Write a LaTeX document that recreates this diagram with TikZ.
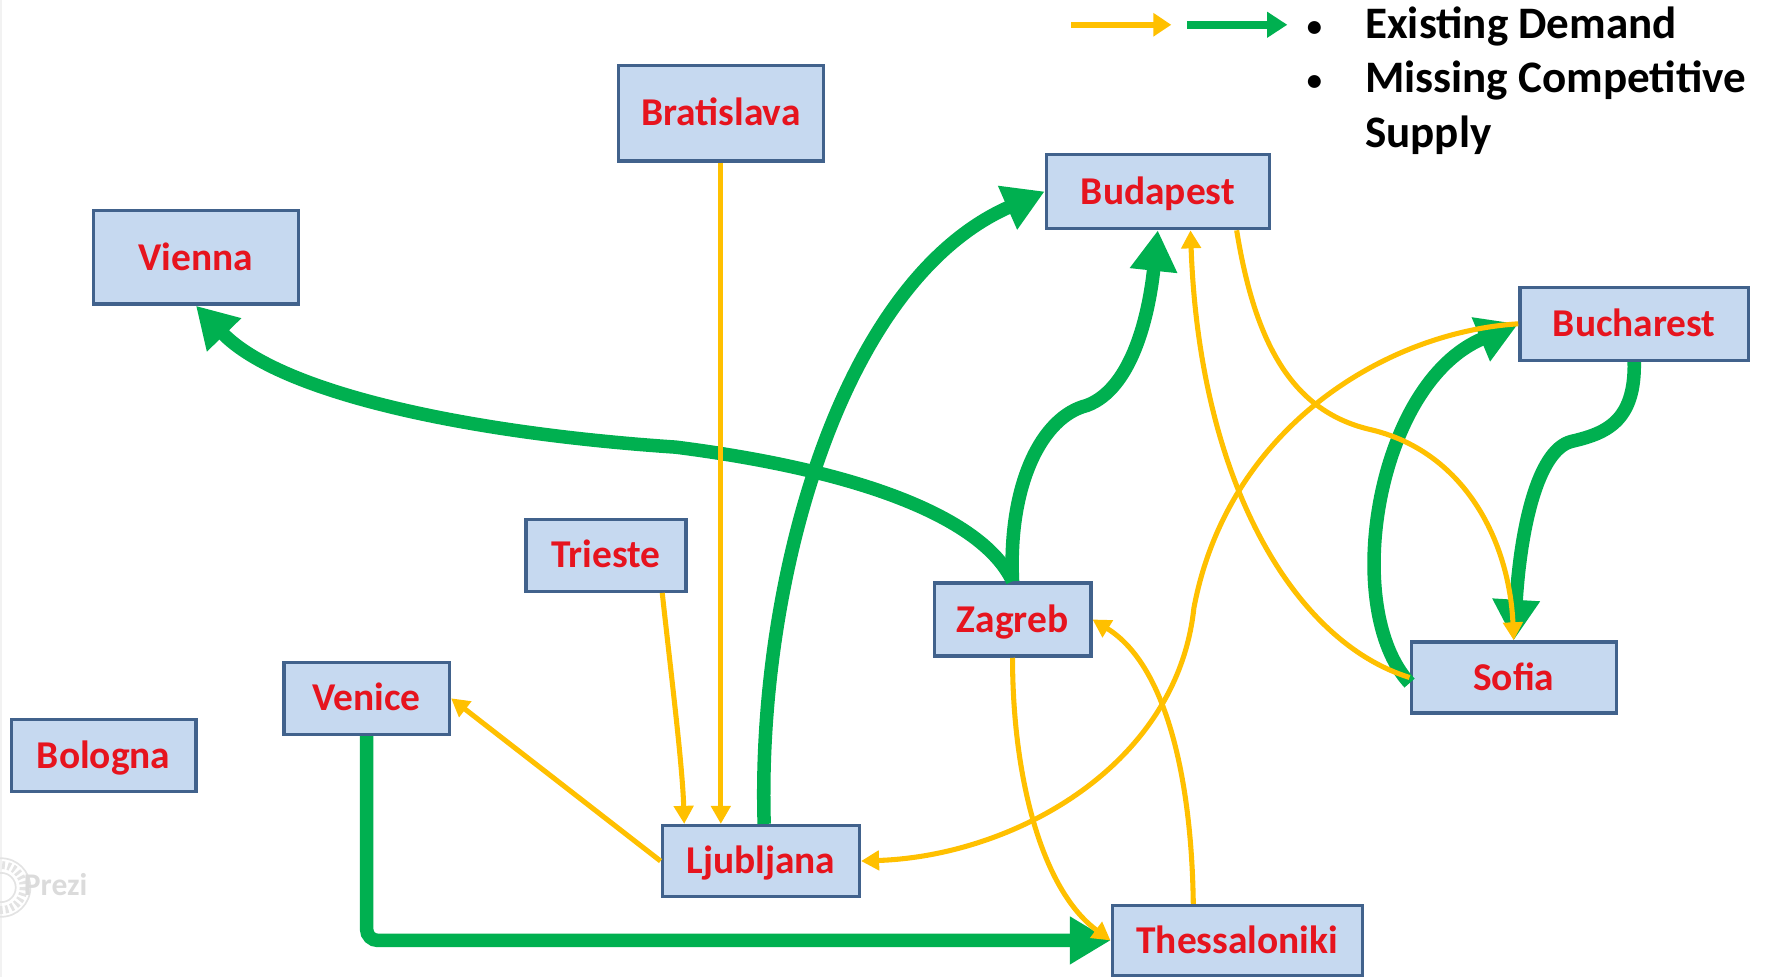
\documentclass[tikz,border=0pt]{standalone}
\usepackage{fontspec}
\setmainfont{Carlito}
\usetikzlibrary{arrows.meta,calc}
\definecolor{boxfill}{RGB}{198,217,240}
\definecolor{boxdraw}{RGB}{65,98,140}
\definecolor{cityred}{RGB}{230,20,30}
\definecolor{ylw}{RGB}{255,192,0}
\definecolor{grn}{RGB}{0,176,80}
\begin{document}
\begin{tikzpicture}[x=1pt,y=-1pt,
  city/.style={draw=boxdraw, fill=boxfill, line width=3pt,
    font=\fontsize{35}{40}\selectfont\bfseries, text=cityred,
    text height=23.5pt, text depth=1pt, inner sep=0pt},
  demand/.style={draw=ylw, line width=4.5pt, -{Triangle[length=16pt,width=17pt]}},
  supply/.style={draw=grn, line width=12pt, -{Triangle[length=36pt,width=40pt]}},
  legtext/.style={anchor=base west, inner sep=0pt, font=\fontsize{40}{48}\selectfont\bfseries},
  legbullet/.style={anchor=base, inner sep=0pt, font=\fontsize{27}{30}\selectfont\bfseries},
]
\useasboundingbox (0,0) rectangle (1568,867.5);
\fill[gray!10] (0,0) rectangle (2,867.5);

% watermark
\draw[gray!22, line width=7pt, dash pattern=on 2.5pt off 2.5pt] (1,788) circle (20);
\draw[gray!22, line width=1.5pt] (1,788) circle (26) (1,788) circle (13);
\node[anchor=base west, inner sep=0pt, text=gray!28, font=\fontsize{28}{32}\selectfont\bfseries] (prezi) at (21,795) {Prezi};

% cities
\node[city, minimum width=182pt, minimum height=85pt] (brat) at (640,100.5) {Bratislava};
\node[city, minimum width=182pt, minimum height=83pt] (vie) at (174,228.5) {Vienna};
\node[city, minimum width=198pt, minimum height=66pt] (bud) at (1028,170) {Budapest};
\node[city, minimum width=203pt, minimum height=65pt] (buc) at (1451,287.5) {Bucharest};
\node[city, minimum width=142pt, minimum height=64pt] (tri) at (538,493) {Trieste};
\node[city, minimum width=139pt, minimum height=65pt] (zag) at (899,550) {Zagreb};
\node[city, minimum width=182pt, minimum height=63pt] (sof) at (1344,601.5) {Sofia};
\node[city, minimum width=147pt, minimum height=64pt] (ven) at (325.5,620) {Venice};
\node[city, minimum width=164pt, minimum height=64pt] (bol) at (92,671) {Bologna};
\node[city, minimum width=175pt, minimum height=63pt] (lj) at (675.5,764.5) {Ljubljana};
\node[city, minimum width=222pt, minimum height=62pt] (thes) at (1098.5,835) {Thessaloniki};

% missing competitive supply (green)
\draw[supply] (zag.north) .. controls (875,465) and (780,420) .. (600,397)
   .. controls (420,385) and (250,350) .. (vie.south);
\draw[supply] (zag.north) .. controls (895,430) and (925,370) .. (965,360)
   .. controls (1005,345) and (1020,280) .. (bud.south);
\draw[supply] ([xshift=3pt]lj.north) .. controls (672,520) and (745,250) .. (bud.west);
\draw[supply, rounded corners=10pt] (ven.south) |- (thes.west);
\draw[supply] ([yshift=-5pt]sof.west) .. controls (1190,540) and (1222,340) .. (buc.west);
\draw[supply] (buc.south) .. controls (1452,375) and (1425,385) .. (1395,392)
   .. controls (1365,400) and (1350,470) .. (sof.north);

% existing demand (yellow)
\draw[demand] (brat.south) -- ([xshift=-35.5pt]lj.north);
\draw[demand] ([xshift=50pt]tri.south) .. controls (596,600) and (606,680) .. ([xshift=-68pt]lj.north);
\draw[demand] (lj.west) -- (ven.east);
\draw[demand] (buc.west) .. controls (1230,295) and (1090,380) .. (1060,540)
   .. controls (1045,680) and (900,760) .. (lj.east);
\draw[demand] (sof.west) .. controls (1150,570) and (1065,430) .. ([xshift=29pt]bud.south);
\draw[demand] ([xshift=70pt]bud.south) .. controls (1115,310) and (1150,365) .. (1215,381)
   .. controls (1300,400) and (1340,480) .. (sof.north);
\draw[demand] (zag.south) .. controls (899,690) and (925,790) .. (thes.west);
\draw[demand] ([xshift=-39pt]thes.north) .. controls (1058,690) and (1035,590) .. (zag.east);

% legend
\coordinate (ly1) at (951,22);
\coordinate (ly2) at (1040,22);
\coordinate (lg1) at (1054,22);
\coordinate (lg2) at (1143,22);
\draw[draw=ylw, line width=5pt, -{Triangle[length=16pt,width=20pt]}] (ly1) -- (ly2);
\draw[draw=grn, line width=7pt, -{Triangle[length=18pt,width=22pt]}] (lg1) -- (lg2);
\node[legbullet] (b1) at (1167,32) {•};
\node[legbullet] (b2) at (1167,80.5) {•};
\node[legtext] (l1) at (1212,34) {Existing Demand};
\node[legtext] (l2) at (1212,82.5) {Missing Competitive};
\node[legtext] (l3) at (1212,131) {Supply};
\end{tikzpicture}
\end{document}
